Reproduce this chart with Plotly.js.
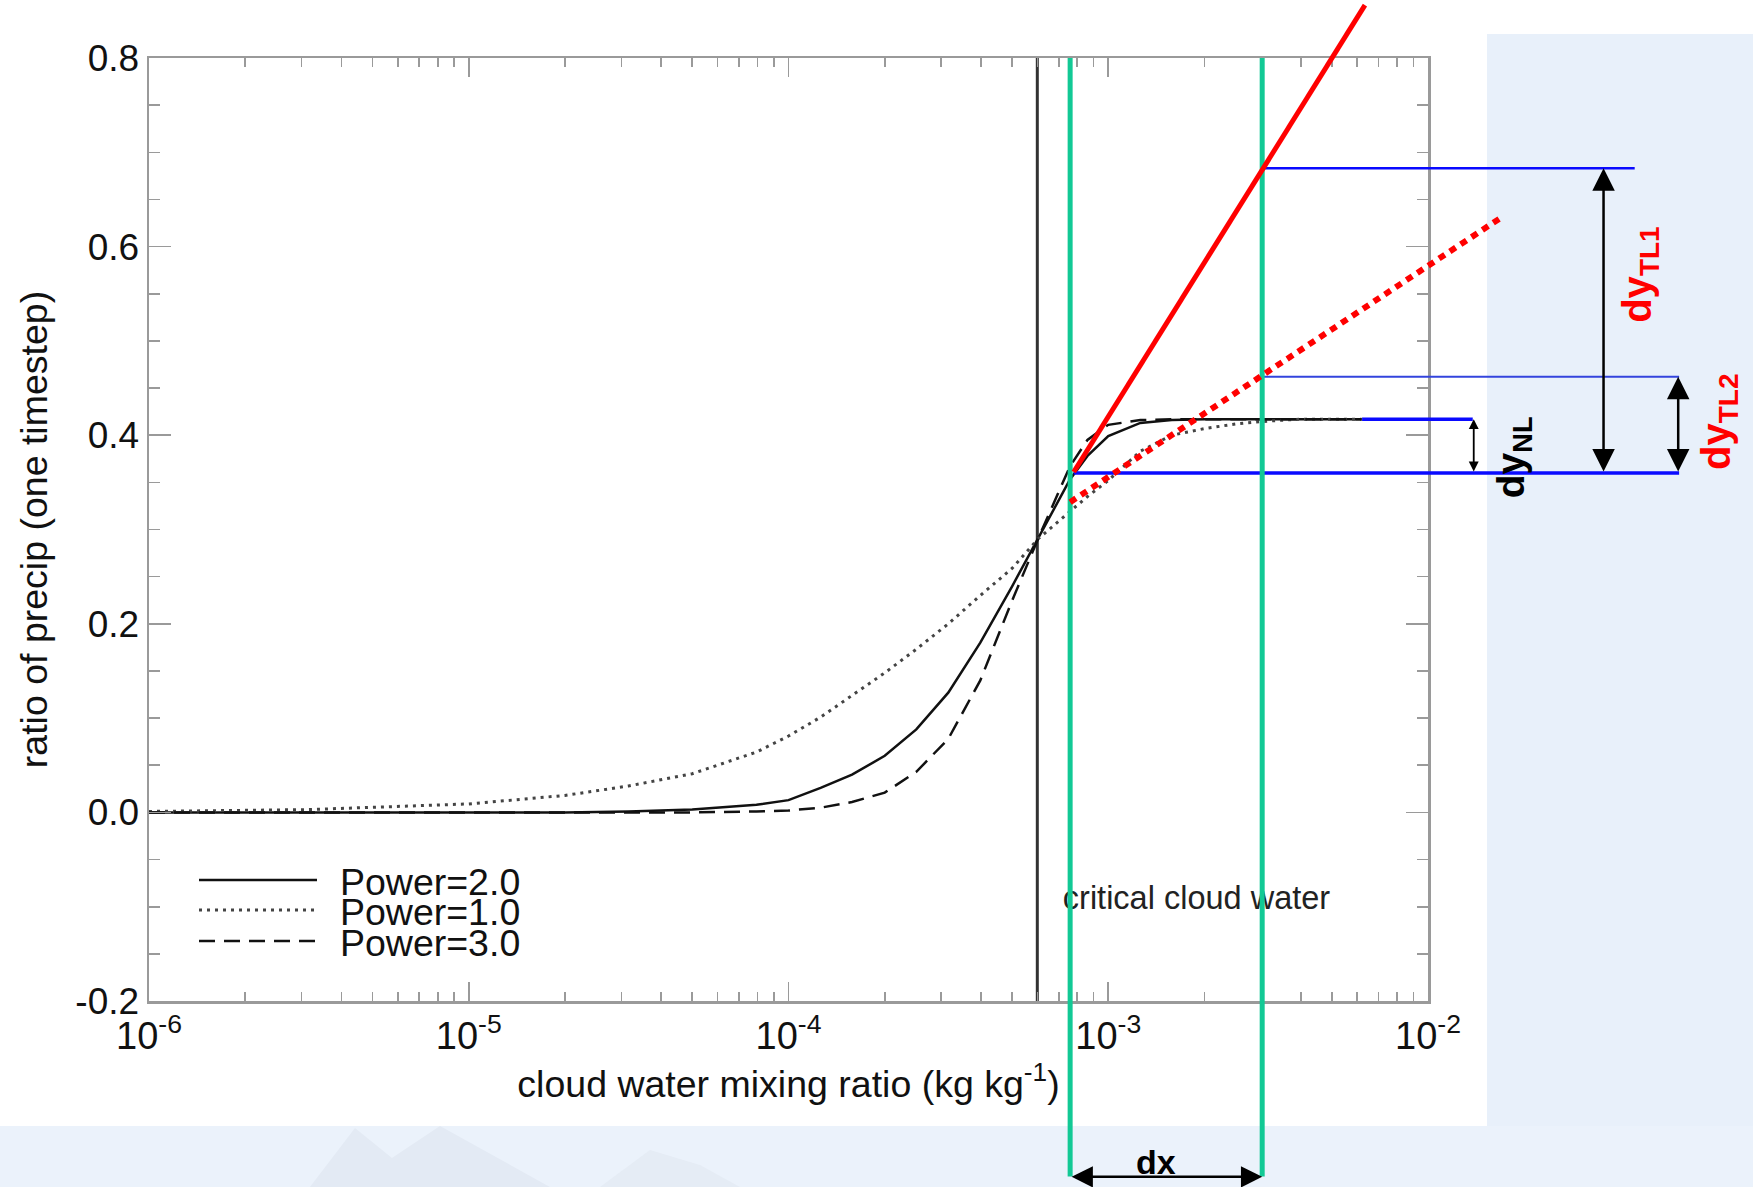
<!DOCTYPE html>
<html>
<head>
<meta charset="utf-8">
<script src="https://cdn.plot.ly/plotly-3.0.1.min.js"></script>
<style>
html,body{margin:0;padding:0;background:#ffffff;}
#chart{width:1753px;height:1187px;}
</style>
</head>
<body>
<div id="chart"></div>
<script>
// ---------------- data ----------------
const cloudWater = [1.0e-6, 3.16e-6, 1.0e-5, 2.0e-5, 3.16e-5, 5.0e-5, 7.94e-5, 1.0e-4, 1.26e-4, 1.58e-4,
  2.0e-4, 2.51e-4, 3.16e-4, 3.98e-4, 5.01e-4, 6.03e-4, 7.59e-4, 8.61e-4, 1.0e-3, 1.26e-3,
  1.58e-3, 2.0e-3, 2.51e-3, 3.16e-3, 3.98e-3, 6.2e-3];
const ratioPower2 = [0, 0, 0, 0, 0.001, 0.003, 0.008, 0.013, 0.026, 0.040,
  0.060, 0.088, 0.127, 0.180, 0.240, 0.290, 0.353, 0.378, 0.399, 0.413,
  0.416, 0.417, 0.417, 0.417, 0.417, 0.417];
const ratioPower1 = [0.001, 0.003, 0.009, 0.018, 0.028, 0.041, 0.064, 0.081, 0.101, 0.124,
  0.148, 0.173, 0.200, 0.230, 0.259, 0.290, 0.319, 0.335, 0.352, 0.383,
  0.400, 0.407, 0.412, 0.415, 0.417, 0.417];
const ratioPower3 = [0, 0, 0, 0, 0, 0, 0.001, 0.002, 0.005, 0.011,
  0.021, 0.043, 0.078, 0.140, 0.225, 0.290, 0.367, 0.395, 0.411, 0.416,
  0.417, 0.417, 0.417, 0.417, 0.417, 0.417];
const seriesNames = ['Power=2.0', 'Power=1.0', 'Power=3.0'];
const criticalCloudWater = 6.0e-4;
const criticalLabel = 'critical cloud water';
const criticalLabelPos = [7.21e-4, -0.094];

const xTickVals = [1e-6, 1e-5, 1e-4, 1e-3, 1e-2];
const xTickText = ['10<sup>-6</sup>', '10<sup>-5</sup>', '10<sup>-4</sup>', '10<sup>-3</sup>', '10<sup>-2</sup>'];
const yTickVals = [-0.2, 0.0, 0.2, 0.4, 0.6, 0.8];
const yTickText = ['-0.2', '0.0', '0.2', '0.4', '0.6', '0.8'];
const xTitle = 'cloud water mixing ratio (kg kg<sup>-1</sup>)';
const yTitle = 'ratio of precip (one timestep)';

// overlay (tangent-linear illustration) values
const dxBounds = [7.6e-4, 3.03e-3];          // green verticals
const greenSpan = [0.8, -0.386];
const tl1X = [7.8e-4, 6.35e-3];              // solid red tangent
const tl1Y = [0.361, 0.856];
const tl2X = [7.6e-4, 1.68e-2];              // dotted red tangent
const tl2Y = [0.329, 0.630];
const baseLevel = 0.360;                      // bottom blue line
const baseLineX = [7.8e-4, 6.1e-2];
const tl1Level = 0.683;
const tl1LineX = [3.03e-3, 4.43e-2];
const tl2Level = 0.462;
const tl2LineX = [3.03e-3, 6.1e-2];
const nlLevel = 0.417;
const nlLineX = [6.22e-3, 1.38e-2];
const arrowTL1X = 3.54e-2;
const arrowTL2X = 6.06e-2;
const arrowNLX = 1.39e-2;
const arrowDxY = -0.3865;
const labelTL1 = [4.6e-2, 0.570];
const labelTL2 = [8.13e-2, 0.414];
const labelNL = [1.85e-2, 0.377];
const labelDx = [1.41e-3, -0.3706];

// ---------------- geometry ----------------
const W = 1753, H = 1187;
const plotL = 149, plotR = 1428, plotT = 58, plotB = 1001;
const xLogRange = [-6, -2], yRange = [-0.2, 0.8];
const decPx = (plotR - plotL) / (xLogRange[1] - xLogRange[0]);
const unitPx = (plotB - plotT) / (yRange[1] - yRange[0]);
const x2Range = [xLogRange[0] - plotL / decPx, xLogRange[1] + (W - plotR) / decPx];
const y2Range = [yRange[0] - (H - plotB) / unitPx, yRange[1] + plotT / unitPx];

const FONT = 'Liberation Sans, Arial, Helvetica, sans-serif';
const lg = Math.log10;
const GAP = '\u00a0\u2009';

// minor tick positions for log axis
const xMinor = [];
for (let e = -6; e < -2; e++) for (let d = 2; d <= 9; d++) xMinor.push(d * Math.pow(10, e));

const traces = [
  {x: [criticalCloudWater, criticalCloudWater], y: [yRange[0], yRange[1]], mode: 'lines',
   line: {color: '#333333', width: 3}, showlegend: false, hoverinfo: 'skip'},
  {x: criticalLabelPos.slice(0, 1), y: criticalLabelPos.slice(1), mode: 'text', text: [criticalLabel],
   textposition: 'middle right', textfont: {family: FONT, size: 32.5, color: '#222'}, showlegend: false, hoverinfo: 'skip'},
  {x: cloudWater, y: ratioPower2, mode: 'lines', name: GAP + seriesNames[0], legend: 'legend',
   line: {color: '#111', width: 2.5}},
  {x: cloudWater, y: ratioPower1, mode: 'lines', name: GAP + seriesNames[1], legend: 'legend2',
   line: {color: '#444', width: 3, dash: '3px,5px'}},
  {x: cloudWater, y: ratioPower3, mode: 'lines', name: GAP + seriesNames[2], legend: 'legend3',
   line: {color: '#111', width: 2.5, dash: '16px,9px'}},
  // overlay subplot
  {x: baseLineX, y: [baseLevel, baseLevel], xaxis: 'x2', yaxis: 'y2', mode: 'lines',
   line: {color: '#0a0aff', width: 3.5}, showlegend: false, hoverinfo: 'skip'},
  {x: tl1LineX, y: [tl1Level, tl1Level], xaxis: 'x2', yaxis: 'y2', mode: 'lines',
   line: {color: '#0a0aff', width: 2.5}, showlegend: false, hoverinfo: 'skip'},
  {x: tl2LineX, y: [tl2Level, tl2Level], xaxis: 'x2', yaxis: 'y2', mode: 'lines',
   line: {color: '#3344dd', width: 2.2}, showlegend: false, hoverinfo: 'skip'},
  {x: nlLineX, y: [nlLevel, nlLevel], xaxis: 'x2', yaxis: 'y2', mode: 'lines',
   line: {color: '#0a0aff', width: 3.5}, showlegend: false, hoverinfo: 'skip'},
  {x: [dxBounds[0], dxBounds[0], null, dxBounds[1], dxBounds[1]],
   y: [greenSpan[0], greenSpan[1], null, greenSpan[0], greenSpan[1]], xaxis: 'x2', yaxis: 'y2', mode: 'lines',
   line: {color: '#12c995', width: 5}, showlegend: false, hoverinfo: 'skip'},
  {x: tl1X, y: tl1Y, xaxis: 'x2', yaxis: 'y2', mode: 'lines',
   line: {color: '#ff0000', width: 5}, showlegend: false, hoverinfo: 'skip'},
  {x: tl2X, y: tl2Y, xaxis: 'x2', yaxis: 'y2', mode: 'lines',
   line: {color: '#ff0000', width: 6, dash: '7px,6px'}, showlegend: false, hoverinfo: 'skip'}
];

function dblArrow(x, y, ax, ay, w, s) {
  return {xref: 'x2', yref: 'y2', axref: 'x2', ayref: 'y2', x: x, y: y, ax: ax, ay: ay, text: '',
    showarrow: true, arrowside: 'end+start', arrowhead: 2, startarrowhead: 2,
    arrowsize: s, startarrowsize: s, arrowwidth: w, arrowcolor: '#000', standoff: 0, startstandoff: 0};
}
function label(pos, txt, color, size) {
  return {xref: 'x2', yref: 'y2', x: lg(pos[0]), y: pos[1], text: txt, showarrow: false, textangle: -90,
    font: {family: FONT, size: size, color: color}, xanchor: 'center', yanchor: 'middle'};
}

const annotations = [
  dblArrow(lg(arrowTL1X), tl1Level, lg(arrowTL1X), baseLevel, 2.5, 1.8),
  dblArrow(lg(arrowTL2X), tl2Level, lg(arrowTL2X), baseLevel, 2.5, 1.8),
  dblArrow(lg(arrowNLX), nlLevel, lg(arrowNLX), baseLevel, 1.8, 1.1),
  dblArrow(lg(dxBounds[1]), arrowDxY, lg(dxBounds[0]), arrowDxY, 2.5, 1.7),
  label(labelTL1, '<b>dy<sub>TL1</sub></b>', '#ff0000', 40),
  label(labelTL2, '<b>dy<sub>TL2</sub></b>', '#ff0000', 40),
  label(labelNL, '<b>dy<sub>NL</sub></b>', '#000000', 39),
  Object.assign(label(labelDx, '<b>dx</b>', '#000000', 34), {textangle: 0})
];

const axisCommon = {showgrid: false, zeroline: false, showline: true, linecolor: '#9a9a9a', linewidth: 2.5,
  mirror: 'ticks', ticks: 'inside', tickcolor: '#9a9a9a', tickwidth: 1.6, fixedrange: true};

const legendCommon = {xanchor: 'left', yanchor: 'middle', bgcolor: 'rgba(0,0,0,0)', borderwidth: 0,
  font: {family: FONT, size: 37.5, color: '#111'}, itemwidth: 118, itemclick: false, itemdoubleclick: false};
const legendX = 194 / W;

// faint mountain silhouettes of the slide background (figure pixels)
const mountainPx = [[310, 1187], [355, 1128], [392, 1158], [440, 1126], [550, 1187]];
const hillPx = [[600, 1187], [650, 1150], [700, 1165], [740, 1187]];
const toPath = pts => 'M' + pts.map(p => (p[0] / W).toFixed(4) + ',' + (1 - p[1] / H).toFixed(4)).join('L') + 'Z';

const layout = {
  width: W, height: H,
  margin: {l: 0, r: 0, t: 0, b: 0, pad: 0},
  paper_bgcolor: '#ffffff',
  plot_bgcolor: 'rgba(0,0,0,0)',
  font: {family: FONT, color: '#111'},
  showlegend: true,
  hovermode: false,
  xaxis: Object.assign({}, axisCommon, {
    type: 'log', domain: [plotL / W, plotR / W], range: xLogRange, anchor: 'y',
    tickvals: xTickVals, ticktext: xTickText, ticklen: 19, ticklabelstandoff: 0,
    tickfont: {family: FONT, size: 38, color: '#111'},
    minor: {tickvals: xMinor, ticks: 'inside', ticklen: 9, tickcolor: '#9a9a9a', tickwidth: 1.6, showgrid: false},
    title: {text: xTitle, font: {family: FONT, size: 37.5, color: '#111'}, standoff: 0}
  }),
  yaxis: Object.assign({}, axisCommon, {
    domain: [(H - plotB) / H, (H - plotT) / H], range: yRange, anchor: 'x',
    tickvals: yTickVals, ticktext: yTickText, ticklen: 22,
    tickfont: {family: FONT, size: 37, color: '#111'},
    minor: {dtick: 0.05, ticks: 'inside', ticklen: 11, tickcolor: '#9a9a9a', tickwidth: 1.6, showgrid: false},
    title: {text: yTitle, font: {family: FONT, size: 37.5, color: '#111'}, standoff: 16}
  }),
  xaxis2: {type: 'log', domain: [0, 1], range: x2Range, anchor: 'y2', visible: false, fixedrange: true},
  yaxis2: {domain: [0, 1], range: y2Range, anchor: 'x2', visible: false, fixedrange: true},
  legend: Object.assign({}, legendCommon, {x: legendX, y: 1 - 880 / H}),
  legend2: Object.assign({}, legendCommon, {x: legendX, y: 1 - 910 / H}),
  legend3: Object.assign({}, legendCommon, {x: legendX, y: 1 - 941 / H}),
  shapes: [
    {type: 'rect', xref: 'paper', yref: 'paper', x0: 1487 / W, x1: 1, y0: 0, y1: 1 - 34 / H,
     fillcolor: '#e8f0fa', line: {width: 0}, layer: 'below'},
    {type: 'rect', xref: 'paper', yref: 'paper', x0: 0, x1: 1, y0: 0, y1: (H - 1126) / H,
     fillcolor: '#ebf2fb', line: {width: 0}, layer: 'below'},
    {type: 'path', xref: 'paper', yref: 'paper', path: toPath(mountainPx),
     fillcolor: '#e3eaf4', line: {width: 0}, layer: 'below'},
    {type: 'path', xref: 'paper', yref: 'paper', path: toPath(hillPx),
     fillcolor: '#e5ecf5', line: {width: 0}, layer: 'below'}
  ],
  annotations: annotations
};

Plotly.newPlot('chart', traces, layout, {staticPlot: true, displayModeBar: false});
</script>
</body>
</html>
